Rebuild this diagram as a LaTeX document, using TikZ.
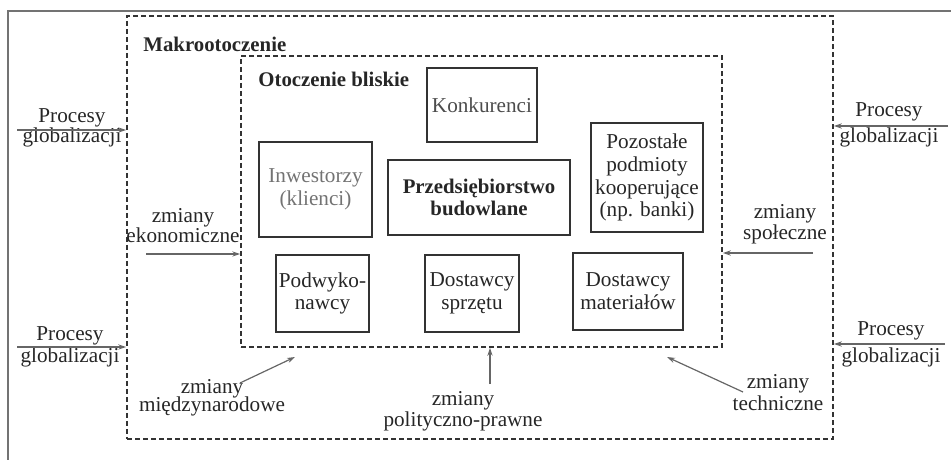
\documentclass[tikz,border=0pt]{standalone}
\usepackage{fontspec}
\setmainfont{Liberation Serif}
\usetikzlibrary{arrows.meta,positioning,fit}
\begin{document}
\begin{tikzpicture}[x=0.5pt,y=-0.5pt,
  txt/.style={inner sep=0pt,align=center,text=black!85,
    font=\fontsize{10.6}{11.4}\selectfont},
  boldtxt/.style={txt,font=\fontsize{10.4}{11.4}\selectfont\bfseries},
  box/.style={draw=black!80,line width=0.65pt,inner sep=0pt},
  zone/.style={draw=black!80,line width=0.8pt,inner sep=0pt,
    dash pattern=on 2.3pt off 1.7pt},
  arr/.style={draw=black!60,line width=0.6pt,
    -{Stealth[length=4pt,width=2.6pt]}},
  rule/.style={draw=black!70,line width=0.6pt}]
\useasboundingbox (0,0) rectangle (951,460);

% outer frame of the page
\coordinate (frameTL) at (8,11);
\coordinate (frameTR) at (951,11);
\coordinate (frameBL) at (8,460);
\draw[draw=black!55,line width=0.6pt] (frameTR) -- (frameTL) -- (frameBL);

% dashed zones
\node[zone,fit={(127,16)(833,439)}] (macro) {};
\node[zone,fit={(241,56)(722,347)}] (near) {};
\node[boldtxt,anchor=west] (macroT) at (143,44) {Makrootoczenie};
\node[boldtxt,anchor=west] (nearT) at (258,79) {Otoczenie bliskie};

% entities of the near environment
\node[box,fit={(427,68)(537,142)}] (konk) {};
\node[txt,text=black!70] (konkT) at (konk) {Konkurenci};
\node[box,fit={(259,142)(372,237)}] (inw) {};
\node[txt,text=black!55] (inwT) at (inw) {Inwestorzy\\(klienci)};
\node[box,fit={(388,160)(570,235)}] (firm) {};
\node[boldtxt] (firmT) at (firm) {Przedsiębiorstwo\\budowlane};
\node[box,fit={(591,123)(703,232)}] (poz) {};
\node[txt] (pozT) at (poz) {Pozostałe\\podmioty\\kooperujące\\(np. banki)};
\node[box,fit={(276,255)(369,332)}] (podw) {};
\node[txt] (podwT) at (podw) {Podwyko-\\nawcy};
\node[box,fit={(425,255)(519,332)}] (sprz) {};
\node[txt] (sprzT) at (sprz) {Dostawcy\\sprzętu};
\node[box,fit={(573,253)(683,330)}] (mat) {};
\node[txt] (matT) at (mat) {Dostawcy\\materiałów};

% globalisation processes acting on the macro environment
\node[txt,anchor=base] (gl1a) at (72,122) {Procesy};
\node[txt,anchor=base] (gl1b) at (72,142) {globalizacji};
\coordinate (gl1s) at (17,130);
\draw[arr] (gl1s) -- (gl1s -| macro.west);

\node[txt,anchor=base] (gl2a) at (70,340) {Procesy};
\node[txt,anchor=base] (gl2b) at (70,362) {globalizacji};
\coordinate (gl2s) at (17,347);
\draw[arr] (gl2s) -- (gl2s -| macro.west);

\node[txt,anchor=base] (gl3a) at (889,117) {Procesy};
\node[txt,anchor=base] (gl3b) at (889,142) {globalizacji};
\coordinate (gl3s) at (948,126);
\draw[arr] (gl3s) -- (gl3s -| macro.east);

\node[txt,anchor=base] (gl4a) at (891,335) {Procesy};
\node[txt,anchor=base] (gl4b) at (891,362) {globalizacji};
\coordinate (gl4s) at (945,344);
\draw[arr] (gl4s) -- (gl4s -| macro.east);

% changes acting on the near environment
\node[txt,anchor=base] (ekA) at (183,222) {zmiany};
\node[txt,anchor=base] (ekB) at (183,242) {ekonomiczne};
\coordinate (ekS) at (146,254);
\draw[arr] (ekS) -- (ekS -| near.west);

\node[txt,anchor=base] (spA) at (785,218) {zmiany};
\node[txt,anchor=base] (spB) at (785,239) {społeczne};
\coordinate (spS) at (813,253);
\draw[arr] (spS) -- (spS -| near.east);

\node[txt,anchor=base] (miA) at (212,393) {zmiany};
\node[txt,anchor=base] (miB) at (212,411) {międzynarodowe};
\coordinate (miS) at (240,383);
\coordinate (miE) at (295,357);
\draw[arr] (miS) -- (miE);

\node[txt,anchor=base] (ppA) at (463,405) {zmiany};
\node[txt,anchor=base] (ppB) at (463,426) {polityczno-prawne};
\coordinate (ppS) at (490,384);
\draw[arr] (ppS) -- (ppS |- near.south);

\node[txt,anchor=base] (teA) at (778,388) {zmiany};
\node[txt,anchor=base] (teB) at (778,410) {techniczne};
\coordinate (teS) at (743,392);
\coordinate (teE) at (667,357);
\draw[arr] (teS) -- (teE);
\end{tikzpicture}
\end{document}
